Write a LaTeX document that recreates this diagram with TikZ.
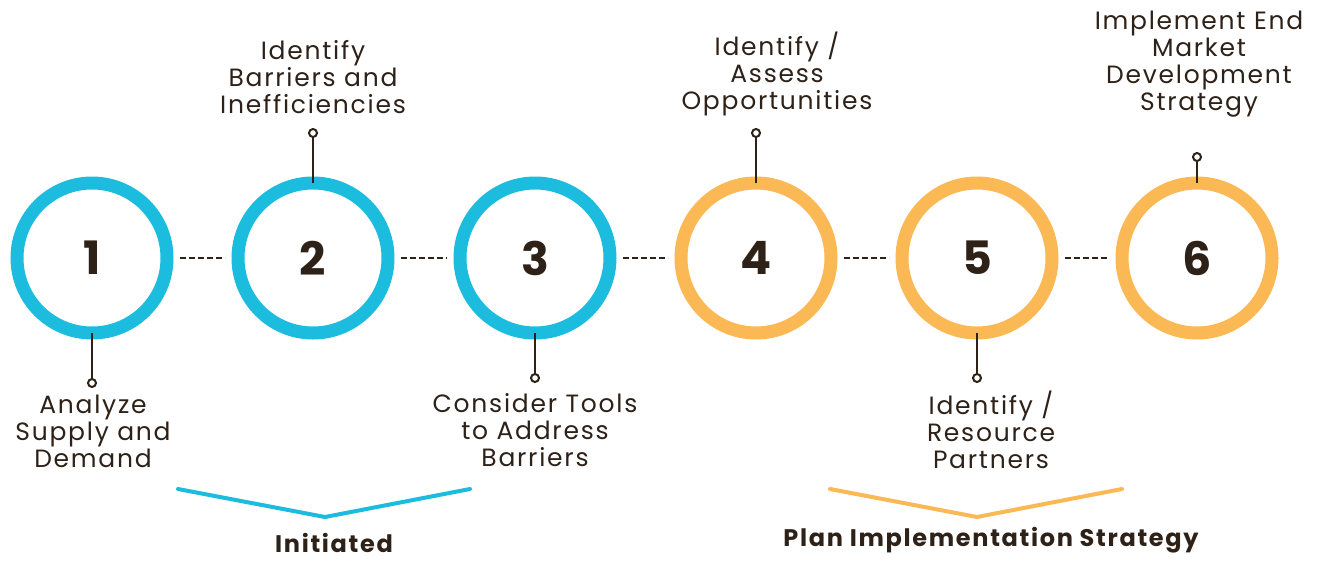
\documentclass[tikz,border=0pt]{standalone}
\usepackage{fontspec}
\setmainfont{Poppins}
\newfontfamily\lblfont[LetterSpace=7]{Poppins}
\definecolor{cblue}{HTML}{1BBCDD}
\definecolor{corange}{HTML}{FBB955}
\definecolor{ink}{HTML}{2E2118}
\begin{document}
\begin{tikzpicture}[x=1pt,y=-1pt,
  ring/.style={circle,draw=#1,line width=13pt,minimum size=150pt,inner sep=0pt,text=ink,font=\fontsize{46}{50}\selectfont\bfseries},
  dash link/.style={draw=ink,line width=1.8pt,dash pattern=on 6pt off 3pt},
  stem/.style={draw=ink,line width=2.2pt},
  tip/.style={circle,draw=ink,line width=2pt,fill=white,minimum size=8pt,inner sep=0pt},
  lbl/.style={align=center,text=ink,font=\lblfont\fontsize{25}{27}\selectfont,inner sep=0pt},
  grp/.style={text=ink,font=\lblfont\fontsize{24}{27}\selectfont\bfseries,inner sep=0pt},
  brk/.style={draw=#1,line width=4pt,line cap=round,line join=round}]
\useasboundingbox (0,0) rectangle (1318,560);
\node[ring=cblue] (c1) at (92,258) {1};
\node[ring=cblue] (c2) at (313,258) {2};
\node[ring=cblue] (c3) at (535,258) {3};
\node[ring=corange] (c4) at (756,258) {4};
\node[ring=corange] (c5) at (977,258) {5};
\node[ring=corange] (c6) at (1197,258) {6};
\foreach \a/\b in {c1/c2,c2/c3,c3/c4,c4/c5,c5/c6}
  \path[dash link] ([xshift=6.5pt]\a.east) -- ([xshift=-6.5pt]\b.west);
% stems
\node[tip] (t1) at (92,383) {};
\node[tip] (t2) at (313,133) {};
\node[tip] (t3) at (535,378) {};
\node[tip] (t4) at (756,133) {};
\node[tip] (t5) at (977,378) {};
\node[tip] (t6) at (1197,157) {};
\path[stem] ([yshift=6.5pt]c1.south) -- (t1);
\path[stem] ([yshift=-6.5pt]c2.north) -- (t2);
\path[stem] ([yshift=6.5pt]c3.south) -- (t3);
\path[stem] ([yshift=-6.5pt]c4.north) -- (t4);
\path[stem] ([yshift=6.5pt]c5.south) -- (t5);
\path[stem] ([yshift=-6.5pt]c6.north) -- (t6);
% labels
\node[lbl,anchor=north] (l1) at (93,395) {Analyze\\Supply and\\Demand};
\node[lbl,anchor=south] (l2) at (313,114) {Identify\\Barriers and\\Inefficiencies};
\node[lbl,anchor=north] (l3) at (535,393) {Consider Tools\\to Address\\Barriers};
\node[lbl,anchor=south] (l4) at (777,116) {Identify /\\Assess\\Opportunities};
\node[lbl,anchor=north] (l5) at (991,391) {Identify /\\Resource\\Partners};
\node[lbl,anchor=south] (l6) at (1199,117) {Implement End\\Market\\Development\\Strategy};
% group brackets
\coordinate (b1a) at (178,489); \coordinate (b1m) at (325,517); \coordinate (b1b) at (470,489);
\coordinate (b2a) at (830,489); \coordinate (b2m) at (977,517); \coordinate (b2b) at (1122,489);
\path[brk=cblue] (b1a) -- (b1m) -- (b1b);
\path[brk=corange] (b2a) -- (b2m) -- (b2b);
\node[grp] (g1) at (334,543) {Initiated};
\node[grp] (g2) at (991,540) {Plan Implementation Strategy};
\end{tikzpicture}
\end{document}
